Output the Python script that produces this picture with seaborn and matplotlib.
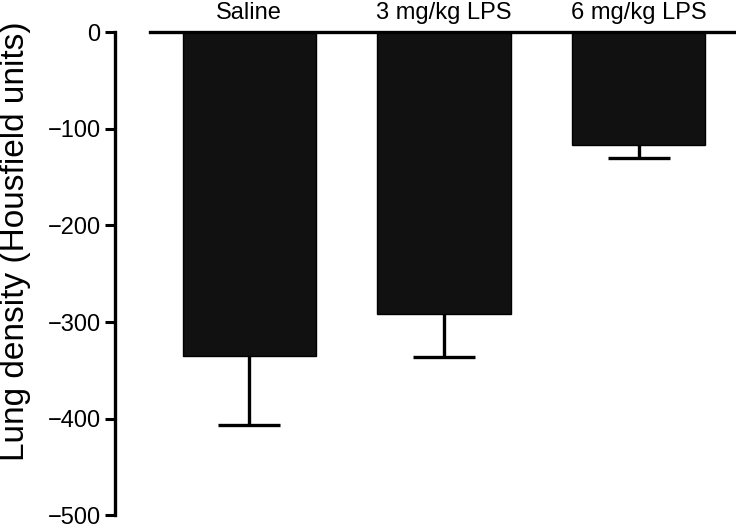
import matplotlib
matplotlib.use("Agg")
import seaborn as sns
import matplotlib.pyplot as plt

groups = ["Saline", "3 mg/kg LPS", "6 mg/kg LPS"]
density = [-335, -292, -117]
sem = [71, 44, 13]

sns.set_style("ticks")
plt.rcParams['font.family'] = ['Liberation Sans', 'DejaVu Sans']
plt.rcParams['text.color'] = 'black'
plt.rcParams['axes.labelcolor'] = 'black'
plt.rcParams['xtick.color'] = 'black'
plt.rcParams['ytick.color'] = 'black'
plt.rcParams['axes.edgecolor'] = 'black'

fig = plt.figure(figsize=(7.36, 5.28), dpi=100)
ax = fig.add_axes([0.2038, 0.024, 0.7962, 0.915])

sns.barplot(x=groups, y=density, color="#111111", saturation=1, width=0.685,
            edgecolor="black", linewidth=1, ax=ax)

# one-sided error bars (downwards only)
xs = list(range(len(groups)))
lows = [d - s for d, s in zip(density, sem)]
ax.vlines(xs, density, lows, color="black", linewidth=2.4)
ax.hlines(lows, [x - 0.16 for x in xs], [x + 0.16 for x in xs], color="black", linewidth=2.4)

ax.set_ylim(-500, 0)
ax.set_xlim(-0.51, 2.5)
ax.set_yticks([0, -100, -200, -300, -400, -500])
ax.set_yticklabels(["0", "\u2212100", "\u2212200", "\u2212300", "\u2212400", "\u2212500"])
ax.xaxis.tick_top()
ax.tick_params(axis="x", length=0, pad=6, labelsize=17)
ax.tick_params(axis="y", length=7.5, width=2.2, pad=3, labelsize=17)

ax.spines['right'].set_visible(False)
ax.spines['bottom'].set_visible(False)
ax.spines['top'].set_linewidth(2.4)
ax.spines['left'].set_linewidth(2.4)
ax.spines['left'].set_position(('outward', 25))

ax.set_ylabel("Lung density (Housfield units)", fontsize=24)
ax.yaxis.set_label_coords(-0.203, 0.567)
ax.set_xlabel("")

plt.savefig("out.png", dpi=100)
